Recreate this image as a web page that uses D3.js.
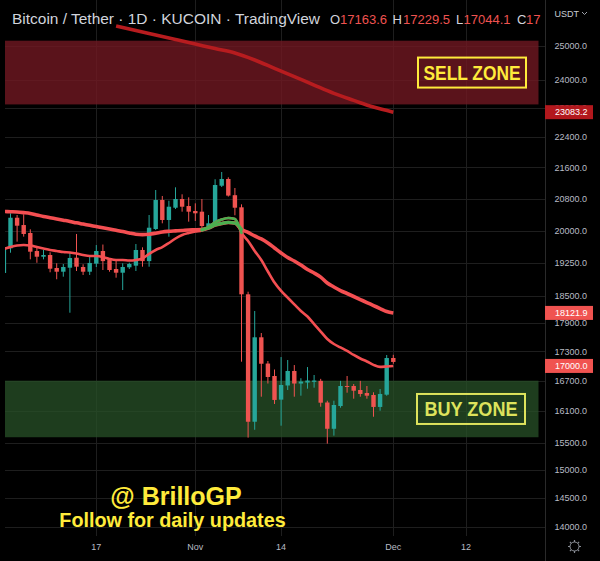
<!DOCTYPE html>
<html><head><meta charset="utf-8">
<script src="https://cdn.jsdelivr.net/npm/d3@7"></script>
<style>html,body{margin:0;padding:0;background:#000;}svg{display:block;}</style>
</head><body>
<svg id="c" width="600" height="561"></svg>
<script>
// ---------------- DATA ----------------
const firstDay = "2022-10-03";
const lastDay  = "2022-12-01";
const open  = [19016,19590,20325,20147,19955,19526,19392,19432,19130,19045,19137,19369,19153,19045,19231,19526,19314,19107,19022,19146,19184,19550,19290,20051,20764,20270,20572,20789,20614,20491,20474,20123,20164,21125,21297,20885,20582,18533,15894,17597,17049,16795,16323,16604,16897,16643,16663,16677,16697,16267,15760,16198,16594,16594,16514,16454,16415,16180,16421,17163.6];
const high  = [19650,20434,20392,20409,20044,19627,19550,19496,19240,19223,19496,19931,19216,19392,19667,19679,19355,19314,19240,19253,19691,19613,20392,21016,20865,20746,21084,20907,20831,20681,20789,20392,21290,21477,21340,21067,20656,18591,18164,17688,17101,16927,17183,17122,17018,16750,16977,16815,16737,16302,16302,16697,16795,16634,16697,16594,16468,16534,17225,17229.5];
const low   = [19000,19486,19748,19867,19331,19251,19331,19032,18872,18931,18126,19061,18970,18970,19153,19084,19045,18908,18629,19107,19061,19160,19160,20027,20189,19866,20540,20474,20229,20246,20068,20039,20150,21092,20850,20384,17087,15592,15741,16381,16643,16238,15818,16514,16381,16401,16540,16560,16185,15480,15630,16165,16460,16342,16381,16342,15990,16106,16400,17044.1];
const close = [19620,20325,20131,19931,19510,19392,19432,19114,19045,19153,19362,19160,19045,19247,19526,19290,19084,19022,19153,19223,19550,19290,20082,20764,20270,20597,20789,20597,20474,20434,20123,20189,21143,21297,20875,20572,18533,15894,17597,17045,16775,16317,16614,16897,16643,16683,16703,16703,16263,15760,16218,16594,16574,16500,16435,16401,16180,16435,17163,17082];
const maSlow = [20480,20473,20466,20450,20430,20395,20355,20325,20295,20265,20235,20200,20170,20140,20110,20080,20050,20020,19990,19955,19925,19915,19925,19950,19980,19995,20005,20015,20028,20030,20035,20075,20147,20185,20210,20195,20040,19968,19883,19812,19716,19597,19480,19373,19292,19199,19095,19016,18921,18787,18698,18618,18551,18484,18417,18350,18284,18218,18153,18121.9];
const maFast = [19573,19620,19655,19668,19655,19620,19585,19550,19527,19503,19492,19468,19433,19410,19410,19387,19340,19315,19315,19303,19315,19351,19457,19550,19620,19716,19823,19908,19956,19992,20016,20100,20210,20283,20320,20295,19956,19764,19527,19315,19050,18798,18608,18458,18310,18165,18043,17880,17720,17560,17455,17383,17310,17226,17153,17092,17021,16980,16990,17000];
const greenFrom = "2022-11-02", greenTo = "2022-11-08";
const ma200Dates  = ["2022-10-20","2022-10-23","2022-10-26","2022-10-29","2022-11-01","2022-11-04","2022-11-07","2022-11-10","2022-11-13","2022-11-16","2022-11-19","2022-11-22","2022-11-25","2022-11-28","2022-12-01"];
const ma200Values = [25610,25471,25334,25197,25060,24922,24790,24582,24337,24095,23849,23611,23413,23225,23083.2];
const sellZone = {from:"2022-09-01", to:"2022-12-23", lo:23300, hi:25160, label:"SELL ZONE"};
const buyZone  = {from:"2022-09-01", to:"2022-12-23", lo:15600, hi:16700, label:"BUY ZONE"};
const priceTicks = [25000,24000,23200,22400,21600,20800,20000,19250,18500,17900,17300,16700,16100,15500,15000,14500,14000];
const timeTicks = [["2022-10-17","17"],["2022-11-01","Nov"],["2022-11-14","14"],["2022-12-01","Dec"],["2022-12-12","12"]];
const priceBadges = [{v:23083.2,c:"#b2181d"},{v:18121.9,c:"#f05350"},{v:17000.0,c:"#f05350"}];
const title = "Bitcoin / Tether · 1D · KUCOIN · TradingView";
const ohlc = [["O","17163.6"],["H","17229.5"],["L","17044.1"],["C","17"]];

// ---------------- CHART ----------------
const svg = d3.select("#c");
const W = 600, H = 561, plotL = 5, plotR = 545, plotB = 536;
const pd = d3.utcParse("%Y-%m-%d");
const days = d3.utcDay.range(pd(firstDay), d3.utcDay.offset(pd(lastDay),1));
const candles = days.map((d,i)=>({d, o:open[i], h:high[i], l:low[i], c:close[i], s:maSlow[i], f:maFast[i]}));

const x = d3.scaleUtc().domain([pd("2022-10-03"), pd("2022-12-24")]).range([3.9, 545.1]);
const y = d3.scaleLog().domain([14000, 25000]).range([527, 46]);

svg.append("rect").attr("width",W).attr("height",H).attr("fill","#000");
svg.append("defs").append("clipPath").attr("id","plot")
  .append("rect").attr("x",plotL).attr("y",0).attr("width",plotR-plotL).attr("height",plotB);

const grid = svg.append("g").attr("clip-path","url(#plot)");
grid.selectAll("line.h").data(priceTicks).join("line")
  .attr("x1",plotL).attr("x2",plotR).attr("y1",d=>Math.round(y(d))+0.5).attr("y2",d=>Math.round(y(d))+0.5)
  .attr("stroke","#1e1e1e").attr("stroke-width",1);
grid.selectAll("line.v").data(timeTicks).join("line")
  .attr("x1",d=>Math.round(x(pd(d[0])))+0.5).attr("x2",d=>Math.round(x(pd(d[0])))+0.5)
  .attr("y1",0).attr("y2",plotB).attr("stroke","#1e1e1e").attr("stroke-width",1);

const plot = svg.append("g").attr("clip-path","url(#plot)");
function zone(z, fill){
  plot.append("rect").attr("x",x(pd(z.from))).attr("width",x(pd(z.to))-x(pd(z.from)))
    .attr("y",y(z.hi)).attr("height",y(z.lo)-y(z.hi)).attr("fill",fill);
}
zone(sellZone,"rgba(112,24,34,0.8)");
zone(buyZone,"rgba(40,82,40,0.75)");

// candles
const bw = 4.4;
const cg = plot.append("g");
cg.selectAll("line").data(candles).join("line")
  .attr("x1",d=>x(d.d)).attr("x2",d=>x(d.d)).attr("y1",d=>y(d.h)).attr("y2",d=>y(d.l))
  .attr("stroke",d=>d.c>=d.o?"#26a69a":"#ef5350").attr("stroke-width",1);
cg.selectAll("rect").data(candles).join("rect")
  .attr("x",d=>x(d.d)-bw/2).attr("width",bw)
  .attr("y",d=>y(Math.max(d.o,d.c))).attr("height",d=>Math.max(1,Math.abs(y(d.o)-y(d.c))))
  .attr("fill",d=>d.c>=d.o?"#26a69a":"#ef5350");

// moving averages
const lineS = d3.line().x(d=>x(d.d)).y(d=>y(d.s)).curve(d3.curveMonotoneX);
const lineF = d3.line().x(d=>x(d.d)).y(d=>y(d.f)).curve(d3.curveMonotoneX);
plot.append("path").datum(candles).attr("d",lineS).attr("fill","none").attr("stroke","#f44f52").attr("stroke-width",3.6).attr("stroke-linejoin","round");
plot.append("path").datum(candles).attr("d",lineF).attr("fill","none").attr("stroke","#f44f52").attr("stroke-width",2.6).attr("stroke-linejoin","round");
const gsub = candles.filter(d=>d.d>=pd(greenFrom)&&d.d<=pd(greenTo));
plot.append("path").datum(gsub).attr("d",lineS).attr("fill","none").attr("stroke","#4caf50").attr("stroke-width",3.2).attr("stroke-linecap","round");
plot.append("path").datum(gsub).attr("d",lineF).attr("fill","none").attr("stroke","#4caf50").attr("stroke-width",2.6).attr("stroke-linecap","round");

const ma200 = ma200Dates.map((d,i)=>({d:pd(d), v:ma200Values[i]}));
plot.append("path").datum(ma200).attr("d",d3.line().x(d=>x(d.d)).y(d=>y(d.v)).curve(d3.curveMonotoneX))
  .attr("fill","none").attr("stroke","#b71c1f").attr("stroke-width",3.6);

// zone labels
function zoneLabel(z, color, cx, tw){
  const cy = y(Math.sqrt(z.lo*z.hi));
  plot.append("rect").attr("x",cx-54).attr("y",cy-15).attr("width",108).attr("height",30)
    .attr("fill","none").attr("stroke",color).attr("stroke-width",2);
  plot.append("text").attr("x",cx-tw/2).attr("y",cy+7.3).attr("fill",color)
    .attr("font-family","Liberation Sans, Arial, sans-serif").attr("font-weight","bold").attr("font-size",20)
    .attr("textLength",tw).attr("lengthAdjust","spacingAndGlyphs").text(z.label);
}
zoneLabel(sellZone,"#ffeb3b",472,97);
zoneLabel(buyZone,"#dde35c",471,93);

// watermark texts
const font = "Liberation Sans, Arial, sans-serif";
svg.append("text").attr("x",176).attr("y",505).attr("text-anchor","middle").attr("fill","#ffeb3b")
  .attr("font-family",font).attr("font-weight","bold").attr("font-size",25).text("@ BrilloGP");
svg.append("text").attr("x",172.5).attr("y",527).attr("text-anchor","middle").attr("fill","#ffeb3b")
  .attr("font-family",font).attr("font-weight","bold").attr("font-size",19.8).text("Follow for daily updates");

// price axis
svg.append("line").attr("x1",545.5).attr("x2",545.5).attr("y1",0).attr("y2",H).attr("stroke","#2a2a2a");
const ax = svg.append("g").attr("font-family",font).attr("font-size",9);
ax.selectAll("text.t").data(priceTicks).join("text").attr("x",554.5).attr("y",d=>y(d)).attr("dy","0.36em")
  .attr("fill","#b8bcc4").text(d=>d3.format(".1f")(d));
priceBadges.forEach(b=>{
  const yy = y(b.v);
  ax.append("rect").attr("x",545).attr("y",yy-7).attr("width",48).attr("height",14).attr("fill",b.c);
  ax.append("text").attr("x",555).attr("y",yy).attr("dy","0.36em").attr("fill","#fff").text(d3.format(".1f")(b.v));
});
ax.append("text").attr("x",554.5).attr("y",17).attr("fill","#c8ccd4").text("USDT");
svg.append("path").attr("d","M582,12 l2.5,2.5 l2.5,-2.5").attr("fill","none").attr("stroke","#a0a4ac").attr("stroke-width",1);

// time axis
const tx = svg.append("g").attr("font-family",font).attr("font-size",9).attr("fill","#b8bcc4");
tx.selectAll("text").data(timeTicks).join("text").attr("x",d=>x(pd(d[0]))).attr("y",550)
  .attr("text-anchor","middle").text(d=>d[1]);

// gear icon
const gear = svg.append("g").attr("transform","translate(574.5,546.5)").attr("stroke","#8a8e96").attr("fill","none");
gear.append("circle").attr("r",4.5).attr("stroke-width",1);
d3.range(8).forEach(i=>{const a=i*Math.PI/4;
  gear.append("line").attr("x1",4.5*Math.cos(a)).attr("y1",4.5*Math.sin(a)).attr("x2",6.5*Math.cos(a)).attr("y2",6.5*Math.sin(a)).attr("stroke-width",1.2);});

// header legend
const hd = svg.append("g").attr("font-family",font);
hd.append("text").attr("x",12).attr("y",23.5).attr("font-size",14).attr("fill","#d1d4dc")
  .attr("textLength",308).attr("lengthAdjust","spacingAndGlyphs").text(title);
svg.append("clipPath").attr("id","hclip").append("rect").attr("x",0).attr("y",0).attr("width",541).attr("height",40);
const og = hd.append("g").attr("clip-path","url(#hclip)").attr("font-size",13);
const ohlcX = [[330,340],[392.5,403],[456,463.5],[517,526]];
ohlc.forEach((p,i)=>{
  og.append("text").attr("x",ohlcX[i][0]).attr("y",23.5).attr("fill","#d1d4dc").text(p[0]);
  og.append("text").attr("x",ohlcX[i][1]).attr("y",23.5).attr("fill","#ef5350").text(p[1]);
});
</script>
</body></html>
